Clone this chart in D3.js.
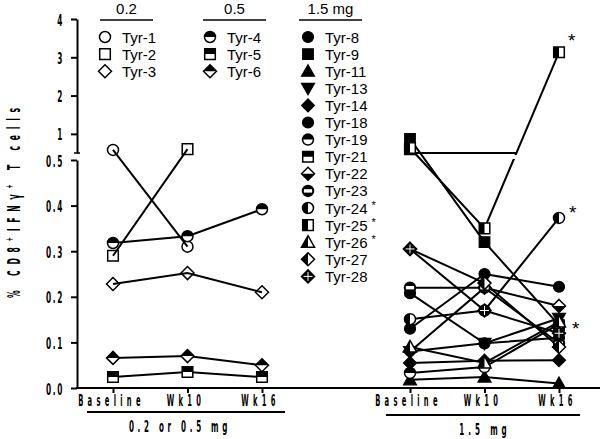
<!DOCTYPE html>
<html><head><meta charset="utf-8">
<script src="https://cdn.jsdelivr.net/npm/d3@7"></script>
<style>body{margin:0;background:#fff}</style>
</head><body><svg id="c" width="600" height="439"></svg>
<script>
// ---------- DATA ----------
const categories = ["Baseline", "Wk10", "Wk16"];
const lowTicks = [0.0, 0.1, 0.2, 0.3, 0.4, 0.5];
const highTicks = [1, 2, 3, 4];
const groupHeaders = ["0.2", "0.5", "1.5 mg"];
const panelLabels = ["0.2 or 0.5 mg", "1.5 mg"];
const yTitle = ["% CD8", "+", "IFNγ", "+", " T cells"];

// low-dose panel (0.2 or 0.5 mg)
const leftNames   = ["Tyr-1", "Tyr-2", "Tyr-3", "Tyr-4", "Tyr-5", "Tyr-6"];
const leftMarkers = ["circle-open", "square-open", "diamond-open", "circle-top", "square-top", "diamond-top"];
const tyr1 = [0.58, 0.31, null];
const tyr2 = [0.29, 0.60, null];
const tyr3 = [0.228, 0.252, 0.21];
const tyr4 = [0.318, 0.333, 0.392];
const tyr5 = [0.024, 0.035, 0.024];
const tyr6 = [0.066, 0.070, 0.050];
const leftValues = [tyr1, tyr2, tyr3, tyr4, tyr5, tyr6];

// 1.5 mg panel
const rightNames   = ["Tyr-8", "Tyr-9", "Tyr-11", "Tyr-13", "Tyr-14", "Tyr-18", "Tyr-19", "Tyr-21",
                      "Tyr-22", "Tyr-23", "Tyr-24", "Tyr-25", "Tyr-26", "Tyr-27", "Tyr-28"];
const rightMarkers = ["circle-solid", "square-solid", "triup-solid", "tridown-solid", "diamond-solid",
                      "circle-solid", "circle-top", "square-top", "diamond-bottom", "circle-band",
                      "circle-left", "square-left", "triup-left", "diamond-left", "diamond-cross"];
const tyr8  = [0.130, 0.250, 0.222];
const tyr9  = [0.870, 0.320, 0.138];
const tyr11 = [0.018, 0.024, 0.010];
const tyr13 = [0.080, 0.098, 0.153];
const tyr14 = [0.055, 0.060, 0.061];
const tyr18 = [0.208, 0.098, 0.110];
const tyr19 = [0.033, 0.046, 0.140];
const tyr21 = [0.600, null, null];
const tyr22 = [0.080, 0.220, 0.180];
const tyr23 = [0.220, 0.220, 0.098];
const tyr24 = [0.151, 0.170, 0.373];
const tyr25 = [0.630, 0.350, 3.130];
const tyr26 = [0.090, 0.055, 0.145];
const tyr27 = [0.305, 0.230, 0.090];
const tyr28 = [0.305, 0.170, 0.120];
const rightValues = [tyr8, tyr9, tyr11, tyr13, tyr14, tyr18, tyr19, tyr21,
                     tyr22, tyr23, tyr24, tyr25, tyr26, tyr27, tyr28];
const starred = ["Tyr-24", "Tyr-25", "Tyr-26"];

// ---------- LAYOUT ----------
const svg = d3.select("#c");
const axisX = 77, axisY = 388;
const yLow  = d3.scaleLinear().domain([0, 0.5]).range([388, 160]);
const yHigh = d3.scaleLinear().domain([0.5, 4]).range([153, 19]);
const yv = v => v <= 0.5 ? yLow(v) : yHigh(v);
const xL = d3.scalePoint().domain(categories).range([113, 262]);
const xR = d3.scalePoint().domain(categories).range([410, 559]);
const SX = 0.45;
const condFont = "'DejaVu Sans', sans-serif";
const legFont = "'Liberation Sans', Arial, sans-serif";

const defs = svg.append("defs");
[["top", -9, -9, 18, 9], ["bottom", -9, 0, 18, 9], ["left", -9, -9, 9, 18], ["right", 0, -9, 9, 18]]
  .forEach(([n, x, y, w, h]) => defs.append("clipPath").attr("id", "clip-" + n)
    .attr("clipPathUnits", "userSpaceOnUse")
    .append("rect").attr("x", x).attr("y", y).attr("width", w).attr("height", h));

const paths = {
  circle: "M-5.5,0A5.5,5.5 0 1,0 5.5,0A5.5,5.5 0 1,0 -5.5,0Z",
  square: "M-5.3,-5.3H5.3V5.3H-5.3Z",
  diamond: "M0,-6.5L6.5,0L0,6.5L-6.5,0Z",
  triup: "M0,-6.5L6.5,5L-6.5,5Z",
  tridown: "M0,6.5L6.5,-5L-6.5,-5Z"
};

function marker(g, type, x, y) {
  const [shape, fill] = type.split("-");
  const d = paths[shape];
  const m = g.append("g").attr("transform", `translate(${x},${y})`);
  if (fill === "solid") {
    m.append("path").attr("d", d).attr("fill", "#000").attr("stroke", "#000").attr("stroke-width", 1.2);
    return;
  }
  m.append("path").attr("d", d).attr("fill", fill === "open" ? "none" : "#fff");
  if (["top", "bottom", "left", "right"].includes(fill)) {
    m.append("path").attr("d", d).attr("fill", "#000").attr("clip-path", `url(#clip-${fill})`);
  } else if (fill === "band") {
    m.append("path").attr("d", d).attr("fill", "#000");
    m.append("rect").attr("x", -4.2).attr("y", -1.7).attr("width", 8.4).attr("height", 3.4).attr("fill", "#fff");
  } else if (fill === "cross") {
    m.append("path").attr("d", d).attr("fill", "#000");
    m.append("line").attr("x1", 0).attr("x2", 0).attr("y1", -4.5).attr("y2", 4.5).attr("stroke", "#fff").attr("stroke-width", 1);
    m.append("line").attr("x1", -4.5).attr("x2", 4.5).attr("y1", 0).attr("y2", 0).attr("stroke", "#fff").attr("stroke-width", 1);
  }
  m.append("path").attr("d", d).attr("fill", "none").attr("stroke", "#000").attr("stroke-width", 1.5);
}

function condensedText(g, str, x, y, size, anchor, spacing) {
  return g.append("text")
    .attr("transform", `translate(${x},${y}) scale(${SX},1)`)
    .attr("text-anchor", anchor)
    .attr("font-family", condFont).attr("font-weight", "bold")
    .attr("font-size", size).attr("letter-spacing", spacing / SX)
    .text(str);
}

// ---------- AXES ----------
const axG = svg.append("g");
const gyL = axG.append("g").attr("transform", `translate(${axisX},0)`)
  .call(d3.axisLeft(yLow).tickValues(lowTicks).tickFormat(d3.format(".1f")).tickSize(6).tickSizeOuter(0));
const gyH = axG.append("g").attr("transform", `translate(${axisX},0)`)
  .call(d3.axisLeft(yHigh).tickValues(highTicks).tickFormat(d3.format("d")).tickSize(6).tickSizeOuter(0));
[gyL, gyH].forEach(g => {
  g.selectAll("path.domain").attr("stroke-width", 2);
  g.selectAll(".tick line").attr("stroke-width", 2);
  g.selectAll(".tick text").each(function () {
    d3.select(this).attr("x", 0).attr("dy", 0)
      .attr("transform", `translate(-13,6) scale(${SX},1)`)
      .attr("font-family", condFont).attr("font-weight", "bold")
      .attr("font-size", 16.5).attr("letter-spacing", 1.6 / SX).attr("fill", "#000");
  });
});
axG.append("line").attr("x1", axisX - 3).attr("x2", axisX + 3).attr("y1", yHigh(0.5)).attr("y2", yHigh(0.5))
  .attr("stroke", "#000").attr("stroke-width", 1.5);

axG.append("line").attr("x1", axisX - 1).attr("x2", 600).attr("y1", axisY).attr("y2", axisY)
  .attr("stroke", "#000").attr("stroke-width", 2);
[xL, xR].forEach(xs => {
  const g = axG.append("g").attr("transform", `translate(0,${axisY})`)
    .call(d3.axisBottom(xs).tickSize(5).tickSizeOuter(0));
  g.select("path.domain").remove();
  g.selectAll(".tick line").attr("stroke-width", 2);
  g.selectAll(".tick text").attr("x", 0).attr("y", 0).attr("dy", 0)
    .attr("transform", `translate(-2,17.5) scale(${SX},1)`)
    .attr("font-family", condFont).attr("font-weight", "bold")
    .attr("font-size", 15).attr("letter-spacing", 4.3 / SX).attr("fill", "#000");
});

axG.append("line").attr("x1", 87).attr("x2", 285).attr("y1", 412).attr("y2", 412).attr("stroke", "#000").attr("stroke-width", 2);
axG.append("line").attr("x1", 386).attr("x2", 580).attr("y1", 415).attr("y2", 415).attr("stroke", "#000").attr("stroke-width", 2);
condensedText(axG, panelLabels[0], 180, 432, 16, "middle", 3.7);
condensedText(axG, panelLabels[1], 485, 435, 16, "middle", 3.9);

// y title
const yt = svg.append("text")
  .attr("transform", `translate(20,200) rotate(-90) scale(${SX},1)`)
  .attr("text-anchor", "middle")
  .attr("font-family", condFont).attr("font-weight", "bold")
  .attr("font-size", 17).attr("letter-spacing", 5.8 / SX);
yTitle.forEach((s, i) => {
  const ts = yt.append("tspan").text(s);
  if (s === "+") ts.attr("font-size", 11).attr("dy", -7);
  else if (i > 0) ts.attr("dy", 7);
});

// ---------- DATA LINES + MARKERS ----------
const line = d3.line().defined(d => d.v != null).x(d => d.x).y(d => yv(d.v));
const plot = svg.append("g");

function drawLines(values, xs) {
  const lg = plot.append("g");
  values.forEach(vals => {
    const pts = vals.map((v, j) => ({ x: xs(categories[j]), v }));
    lg.append("path").attr("d", line(pts)).attr("fill", "none").attr("stroke", "#000").attr("stroke-width", 2);
  });
}
drawLines(leftValues, xL);
drawLines(rightValues, xR);

// Tyr-21 connector along the top of the axis break up to the crossing Tyr-25 segment
(function () {
  const a = { x: xR("Wk10"), y: yv(tyr25[1]) }, b = { x: xR("Wk16"), y: yv(tyr25[2]) };
  const yb = yHigh(0.5);
  const t = (yb - a.y) / (b.y - a.y);
  const xc = a.x + t * (b.x - a.x);
  plot.append("line").attr("x1", xR("Baseline")).attr("x2", xc).attr("y1", yb).attr("y2", yb)
    .attr("stroke", "#000").attr("stroke-width", 2);
})();
plot.append("rect").attr("x", xR("Wk10")).attr("width", 80).attr("y", yHigh(0.5) + 2)
  .attr("height", yLow(0.5) - yHigh(0.5) - 3).attr("fill", "#fff");

const mgL = plot.append("g"), mgR = plot.append("g");
leftValues.forEach((vals, i) => vals.forEach((v, j) => { if (v != null) marker(mgL, leftMarkers[i], xL(categories[j]), yv(v)); }));
rightValues.forEach((vals, i) => vals.forEach((v, j) => { if (v != null) marker(mgR, rightMarkers[i], xR(categories[j]), yv(v)); }));

const starOff = { "Tyr-24": [10, 1], "Tyr-25": [9, -5], "Tyr-26": [13, 13] };
starred.forEach(n => {
  const i = rightNames.indexOf(n);
  const v = rightValues[i][2];
  plot.append("text").attr("x", xR("Wk16") + starOff[n][0]).attr("y", yv(v) + starOff[n][1])
    .attr("font-family", legFont).attr("font-size", 19).text("*");
});

// ---------- LEGEND ----------
const leg = svg.append("g");
const legCols = [
  { head: groupHeaders[0], x0: 100, x1: 153, mx: 105, names: leftNames.slice(0, 3), marks: leftMarkers.slice(0, 3) },
  { head: groupHeaders[1], x0: 203, x1: 266, mx: 210, names: leftNames.slice(3, 6), marks: leftMarkers.slice(3, 6) },
  { head: groupHeaders[2], x0: 299, x1: 362, mx: 308, names: rightNames, marks: rightMarkers }
];
legCols.forEach(c => {
  leg.append("text").attr("x", (c.x0 + c.x1) / 2).attr("y", 14).attr("text-anchor", "middle")
    .attr("font-family", legFont).attr("font-size", 15).text(c.head);
  leg.append("line").attr("x1", c.x0).attr("x2", c.x1).attr("y1", 20).attr("y2", 20).attr("stroke", "#000").attr("stroke-width", 1.6);
  c.names.forEach((n, i) => {
    const y = 37 + i * 17.1;
    marker(leg, c.marks[i], c.mx, y);
    const t = leg.append("text").attr("x", c.mx + 17).attr("y", y + 5.5)
      .attr("font-family", legFont).attr("font-size", 15).text(n);
    if (starred.includes(n)) t.append("tspan").attr("font-size", 11).attr("dx", 4).attr("dy", -5).text("*");
  });
});
</script></body></html>
